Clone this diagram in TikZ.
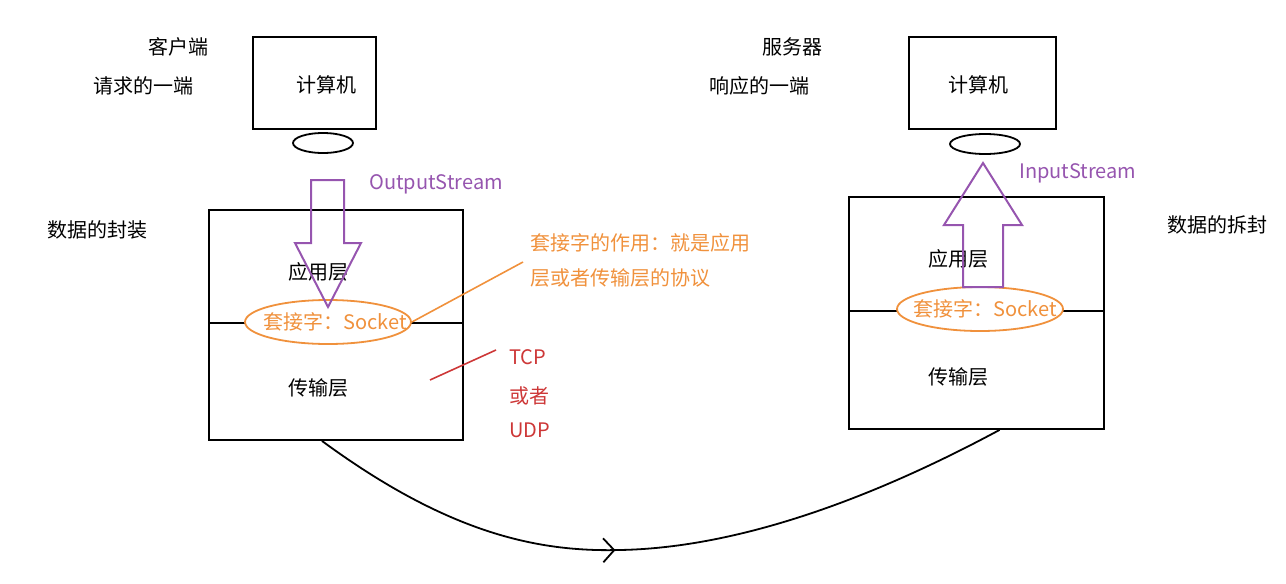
\documentclass[tikz,border=0pt]{standalone}
\usepackage{fontspec}
\setmainfont{Noto Sans CJK SC}
\usetikzlibrary{arrows.meta,decorations.markings,shapes.geometric,calc}
\definecolor{pur}{RGB}{150,85,175}
\definecolor{org}{RGB}{240,145,60}
\definecolor{rd}{RGB}{205,55,55}
\tikzset{
  box/.style={draw=black,line width=1.8pt,inner sep=0pt},
  lbl/.style={font=\fontsize{20}{22}\selectfont,inner sep=0pt},
  olbl/.style={lbl,text=org},
  sock/.style={ellipse,draw=org,line width=1.8pt,fill=white,minimum width=166pt,minimum height=44pt,inner sep=0pt},
  mouse/.style={ellipse,draw=black,line width=1.8pt,minimum height=20pt,inner sep=0pt},
  barrow/.style={draw=pur,line width=2pt,line join=miter},
}
\begin{document}
\begin{tikzpicture}[x=1pt,y=-1pt]
\useasboundingbox (0,0) rectangle (1286,584);
% client computer
\node[box,minimum width=123pt,minimum height=92pt] (cpc) at (314.5,83) {};
\node[lbl] (cpct) at (326,85) {计算机};
\node[mouse,minimum width=60pt] (cms) at (323,143) {};
\node[lbl] (ckh) at (178,47) {客户端};
\node[lbl] (cqq) at (143,86) {请求的一端};
% server computer
\node[box,minimum width=147pt,minimum height=92pt] (spc) at (982.5,83) {};
\node[lbl] (spct) at (978,85) {计算机};
\node[mouse,minimum width=70pt] (sms) at (985,144) {};
\node[lbl] (sfw) at (792,47) {服务器};
\node[lbl] (sxy) at (759,86) {响应的一端};
% client layers
\node[box,minimum width=254pt,minimum height=230pt] (cbox) at (336,325) {};
\draw[line width=1.8pt] (cbox.west |- 0,323) -- (cbox.east |- 0,323);
\node[lbl] (capp) at (318,272) {应用层};
\node[lbl] (ctr) at (318,388) {传输层};
\node[sock] (csock) at (328,322) {};
\node[olbl] (csockt) at (335,322) {套接字：Socket};
\node[lbl] (cfz) at (97,230) {数据的封装};
% server layers
\node[box,minimum width=255pt,minimum height=232pt] (sbox) at (976.5,313) {};
\draw[line width=1.8pt] (sbox.west |- 0,311) -- (sbox.east |- 0,311);
\node[lbl] (sapp) at (958,259) {应用层};
\node[lbl] (str) at (958,377) {传输层};
\node[sock] (ssock) at (980,309) {};
\node[olbl] (ssockt) at (985,309) {套接字：Socket};
\node[lbl] (scf) at (1217,225) {数据的拆封};
% output stream arrow
\draw[barrow] (311,180) -- (344,180) -- (344,243) -- (361,243) -- (328,307) -- (295,243) -- (311,243) -- cycle;
\node[lbl,text=pur,anchor=west] (outs) at (369,184) {OutputStream};
% input stream arrow
\draw[barrow] (963,287) -- (1003,287) -- (1003,225) -- (1022,225) -- (983,163) -- (944,225) -- (963,225) -- cycle;
\node[lbl,text=pur,anchor=west] (ins) at (1019,173) {InputStream};
% socket note
\coordinate (notep) at (523,262);
\draw[org,line width=1.6pt] (csock.east) -- (notep);
\node[olbl,anchor=west] (note1) at (530,243) {套接字的作用：就是应用};
\node[olbl,anchor=west] (note2) at (530,278) {层或者传输层的协议};
% TCP / UDP
\coordinate (ra) at (430,380);
\coordinate (rb) at (496,350);
\draw[rd,line width=1.6pt] (ra) -- (rb);
\node[lbl,text=rd,anchor=west] (tcp) at (509,357) {TCP};
\node[lbl,text=rd,anchor=west] (huo) at (509,396) {或者};
\node[lbl,text=rd,anchor=west] (udp) at (509,430) {UDP};
% transfer curve
\coordinate (c0) at ($(cbox.south west)!0.445!(cbox.south east)$);
\coordinate (s0) at ($(sbox.south west)!0.59!(sbox.south east)$);
\draw[line width=1.8pt,postaction={decorate},decoration={markings,mark=at position 0.44 with {\arrow{Straight Barb[length=11pt,width=24pt,line width=1.8pt]}}}]
  (c0) .. controls (450,535) and (540,552) .. (620,550) .. controls (730,548) and (860,505) .. (s0);
\end{tikzpicture}
\end{document}
